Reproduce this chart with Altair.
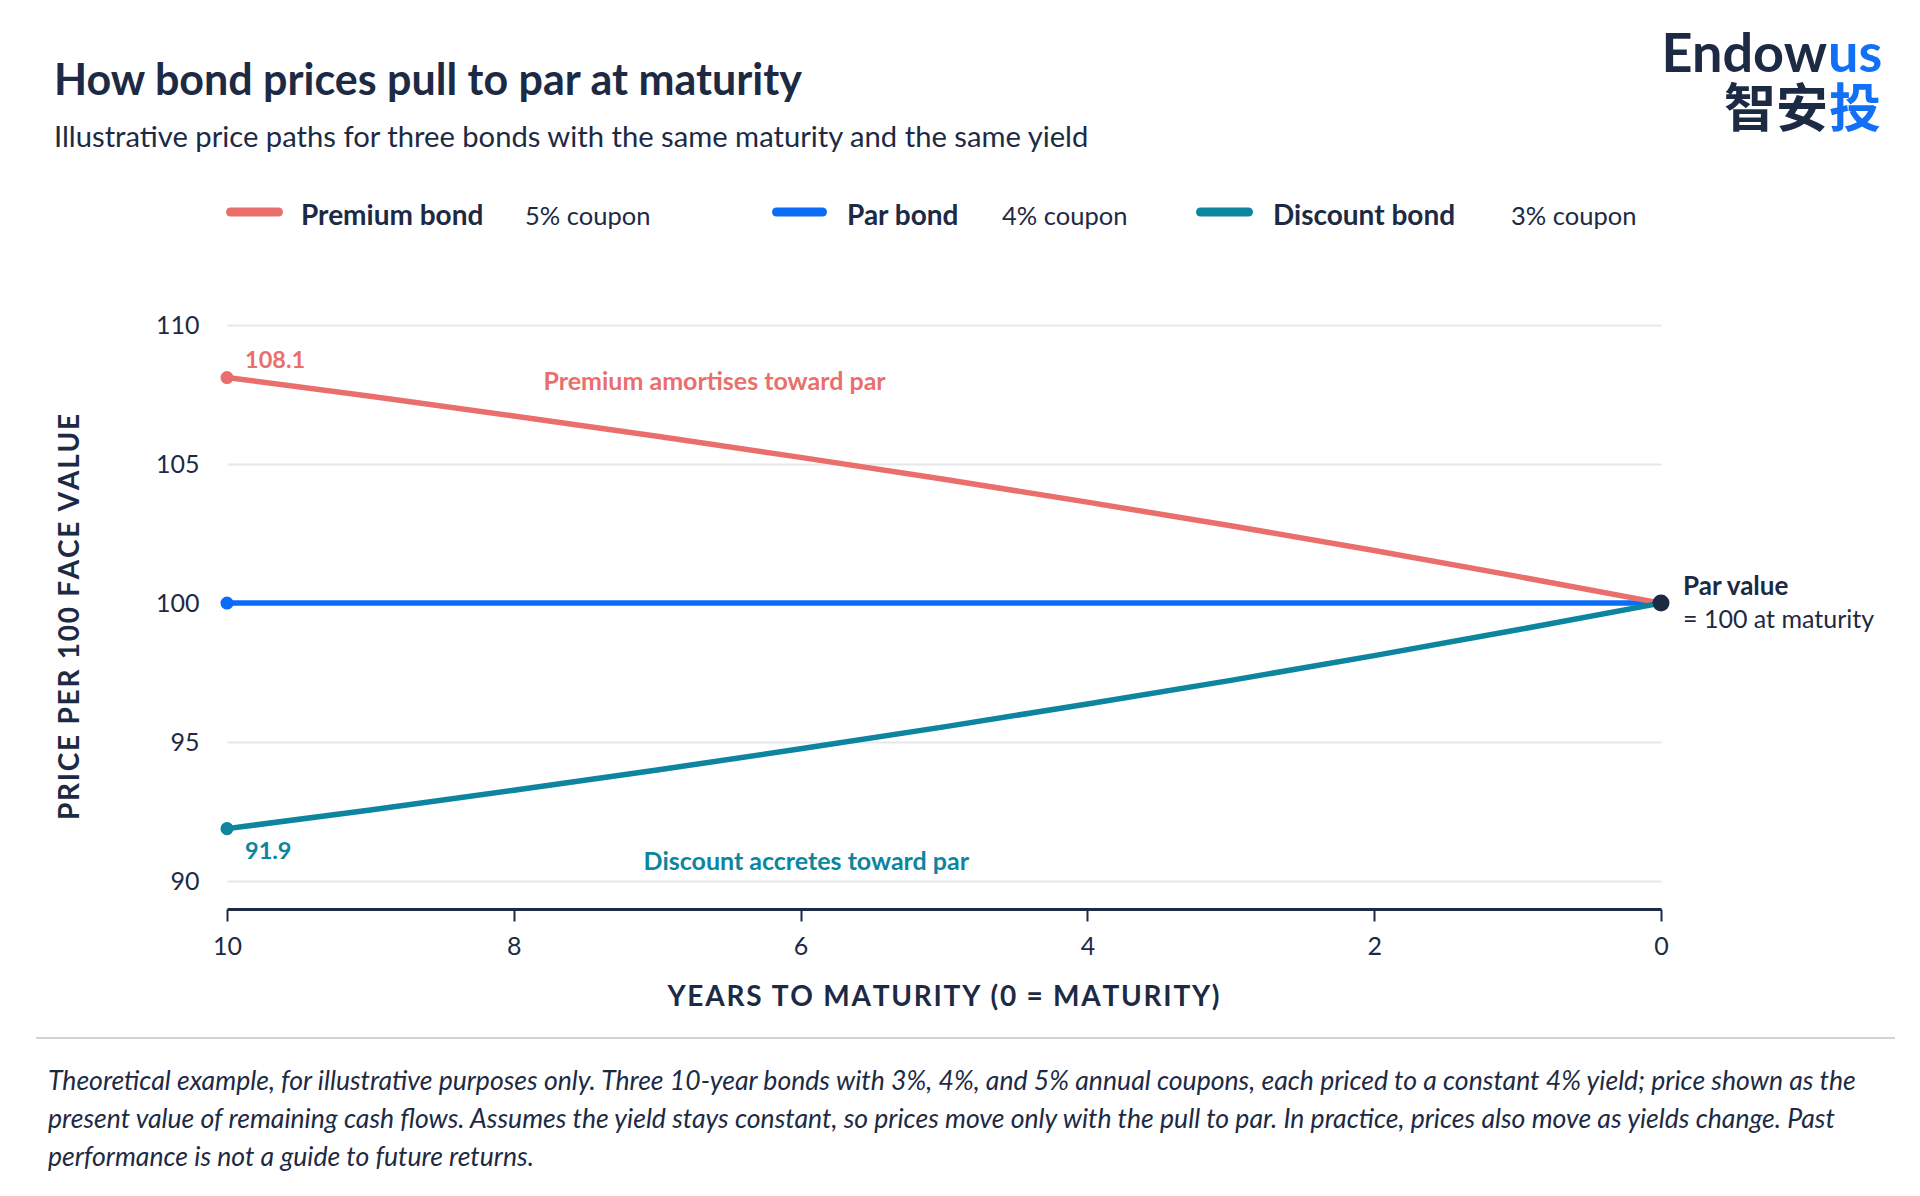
import altair as alt
import pandas as pd

# ---------------- data ----------------
years = [10, 9, 8, 7, 6, 5, 4, 3, 2, 1, 0]
premium = [108.11, 107.44, 106.73, 106.00, 105.24, 104.45, 103.63, 102.78, 101.89, 100.96, 100.00]
par = [100.00, 100.00, 100.00, 100.00, 100.00, 100.00, 100.00, 100.00, 100.00, 100.00, 100.00]
discount = [91.89, 92.56, 93.27, 94.00, 94.76, 95.55, 96.37, 97.22, 98.11, 99.04, 100.00]

series_names = ["Premium bond", "Par bond", "Discount bond"]
coupons = ["5% coupon", "4% coupon", "3% coupon"]
x_ticks = [10, 8, 6, 4, 2, 0]
y_ticks = [90, 95, 100, 105, 110]

title_text = "How bond prices pull to par at maturity"
subtitle_text = "Illustrative price paths for three bonds with the same maturity and the same yield"
x_title = "YEARS TO MATURITY (0 = MATURITY)"
y_title = "PRICE PER 100 FACE VALUE"
premium_note = "Premium amortises toward par"
discount_note = "Discount accretes toward par"
par_note = ["Par value", "= 100 at maturity"]
footnote_lines = [
    "Theoretical example, for illustrative purposes only. Three 10-year bonds with 3%, 4%, and 5% annual coupons, each priced to a constant 4% yield; price shown as the",
    "present value of remaining cash flows. Assumes the yield stays constant, so prices move only with the pull to par. In practice, prices also move as yields change. Past",
    "performance is not a guide to future returns.",
]

# ---------------- styles ----------------
NAVY = "#1D2A44"
COLORS = ["#EA6F6C", "#0B6CF8", "#0D859F"]
BLUE_LOGO = "#1170F5"
GRID = "#E6E8EE"
FONT = "Lato"

W, H = 1434, 584
PL, PT, PR, PB = 219, 317, 245, 270
OX, OY = 8 + PL, 8 + PT


def spaced(s):
    # emulate letter-spacing with hair spaces
    return "\u200a".join(s)


def txt(text, xp, yp, size, color, weight="normal", style="normal",
        align="left", baseline="alphabetic", font=FONT):
    return alt.Chart(pd.DataFrame({"t": [text]})).mark_text(
        align=align, baseline=baseline, fontSize=size, font=font,
        fontWeight=weight, fontStyle=style, color=color
    ).encode(x=alt.value(xp - OX), y=alt.value(yp - OY), text="t:N")


rows = []
for name, vals in zip(series_names, [premium, par, discount]):
    for yr, v in zip(years, vals):
        rows.append({"years": yr, "price": v, "series": name})
df = pd.DataFrame(rows)

color_enc = alt.Color("series:N", scale=alt.Scale(domain=series_names, range=COLORS), legend=None)

x_enc = alt.X(
    "years:Q",
    scale=alt.Scale(domain=[10, 0], nice=False, zero=False),
    axis=alt.Axis(
        values=x_ticks, format="d", title=spaced(x_title), grid=False,
        domainColor=NAVY, domainWidth=3, tickColor=NAVY, tickWidth=2, tickSize=12,
        labelFont=FONT, labelFontSize=25, labelColor=NAVY, labelPadding=13,
        labelOverlap=False, labelFlush=False,
        titleFont=FONT, titleFontSize=28, titleFontWeight="bold", titleColor=NAVY,
        titleX=716, titleY=96, titleAlign="center", titleBaseline="alphabetic",
    ),
)
y_enc = alt.Y(
    "price:Q",
    scale=alt.Scale(domain=[89, 110], nice=False, zero=False),
    axis=alt.Axis(
        values=y_ticks, title=spaced(y_title), domain=False, ticks=False,
        grid=True, gridColor=GRID, gridWidth=2,
        labelFont=FONT, labelFontSize=25, labelColor=NAVY, labelPadding=28,
        titleFont=FONT, titleFontSize=28, titleFontWeight="bold", titleColor=NAVY,
        titleX=70 - OX, titleY=291.5, titleAngle=270, titleAlign="center",
        titleBaseline="middle",
    ),
)

layers = []
for name in ["Par bond", "Premium bond", "Discount bond"]:
    layers.append(
        alt.Chart(df[df.series == name]).mark_line(strokeWidth=5.5, strokeCap="round")
        .encode(x=x_enc, y=y_enc, color=color_enc)
    )

start_df = df[df.years == years[0]]
layers.append(
    alt.Chart(start_df).mark_circle(size=170, opacity=1).encode(x=x_enc, y=y_enc, color=color_enc)
)
end_df = pd.DataFrame({"years": [years[-1]], "price": [par[-1]]})
layers.append(
    alt.Chart(end_df).mark_circle(size=290, opacity=1, color=NAVY).encode(x=x_enc, y=y_enc)
)

# start value labels
lab_df = pd.DataFrame({
    "years": [years[0], years[0]],
    "price": [premium[0], discount[0]],
    "t": [f"{premium[0]:.1f}", f"{discount[0]:.1f}"],
    "series": ["Premium bond", "Discount bond"],
})
layers.append(
    alt.Chart(lab_df[lab_df.series == "Premium bond"]).mark_text(
        align="left", baseline="alphabetic", dx=18, dy=-10, fontSize=23.5,
        font=FONT, fontWeight="bold", color=COLORS[0]
    ).encode(x=x_enc, y=y_enc, text="t:N")
)
layers.append(
    alt.Chart(lab_df[lab_df.series == "Discount bond"]).mark_text(
        align="left", baseline="alphabetic", dx=18, dy=30, fontSize=23.5,
        font=FONT, fontWeight="bold", color=COLORS[2]
    ).encode(x=x_enc, y=y_enc, text="t:N")
)

# in-plot notes (data coordinates)
note_df = pd.DataFrame({"years": [6.60, 5.96], "price": [107.65, 90.41],
                        "t": [premium_note, discount_note]})
for i, c in [(0, COLORS[0]), (1, COLORS[2])]:
    layers.append(
        alt.Chart(note_df.iloc[[i]]).mark_text(
            align="center", baseline="alphabetic", fontSize=25, font=FONT,
            fontWeight="bold", color=c
        ).encode(x=x_enc, y=y_enc, text="t:N")
    )

# par value note
pv_df = pd.DataFrame({"years": [years[-1]], "price": [par[-1]], "t": [par_note[0]], "u": [par_note[1]]})
layers.append(
    alt.Chart(pv_df).mark_text(align="left", baseline="alphabetic", dx=22, dy=-8,
                               fontSize=26, font=FONT, fontWeight="bold", color=NAVY)
    .encode(x=x_enc, y=y_enc, text="t:N")
)
layers.append(
    alt.Chart(pv_df).mark_text(align="left", baseline="alphabetic", dx=22, dy=25,
                               fontSize=25, font=FONT, color=NAVY)
    .encode(x=x_enc, y=y_enc, text="u:N")
)

# title, subtitle
layers.append(txt(title_text, 54, 95, 43, NAVY, weight="bold"))
layers.append(txt(subtitle_text, 54, 147, 29.2, NAVY))

# logo
layers.append(txt("Endow", 1827, 72, 54, NAVY, weight="bold", align="right"))
layers.append(txt("us", 1828, 72, 54, BLUE_LOGO, weight="bold", align="left"))
layers.append(txt("智安", 1828, 127, 52, NAVY, weight="bold", align="right", font="Noto Sans CJK SC"))
layers.append(txt("投", 1829, 127, 52, BLUE_LOGO, weight="bold", align="left", font="Noto Sans CJK SC"))

# legend
LEG_SW = [(226, 283), (772, 827), (1196, 1253)]
LEG_NAME_X = [301, 847, 1273]
LEG_CPN_X = [525, 1002, 1511]
for i, name in enumerate(series_names):
    x0, x1 = LEG_SW[i]
    layers.append(
        alt.Chart(pd.DataFrame({"s": [name]})).mark_rule(strokeWidth=9, strokeCap="round", color=COLORS[i])
        .encode(x=alt.value(x0 + 4.5 - OX), x2=alt.value(x1 - 4.5 - OX), y=alt.value(212 - OY))
    )
    layers.append(txt(name, LEG_NAME_X[i], 225, 28, NAVY, weight="bold"))
    layers.append(txt(coupons[i], LEG_CPN_X[i], 225, 25.5, NAVY))

# separator
layers.append(
    alt.Chart(pd.DataFrame({"s": [0]})).mark_rule(strokeWidth=2, color="#D2D4D8")
    .encode(x=alt.value(36 - OX), x2=alt.value(1895 - OX), y=alt.value(1038 - OY))
)

# footnote
for i, line in enumerate(footnote_lines):
    layers.append(txt(line, 48, 1090 + 38 * i, 26.6, NAVY, style="italic"))

chart = alt.layer(*layers).properties(
    width=W, height=H,
    padding={"left": PL, "top": PT, "right": PR, "bottom": PB},
    autosize=alt.AutoSizeParams(type="none"),
    background="white",
).configure_view(stroke=None)

chart.save("out.html", embed_options={"renderer": "svg", "actions": False})
